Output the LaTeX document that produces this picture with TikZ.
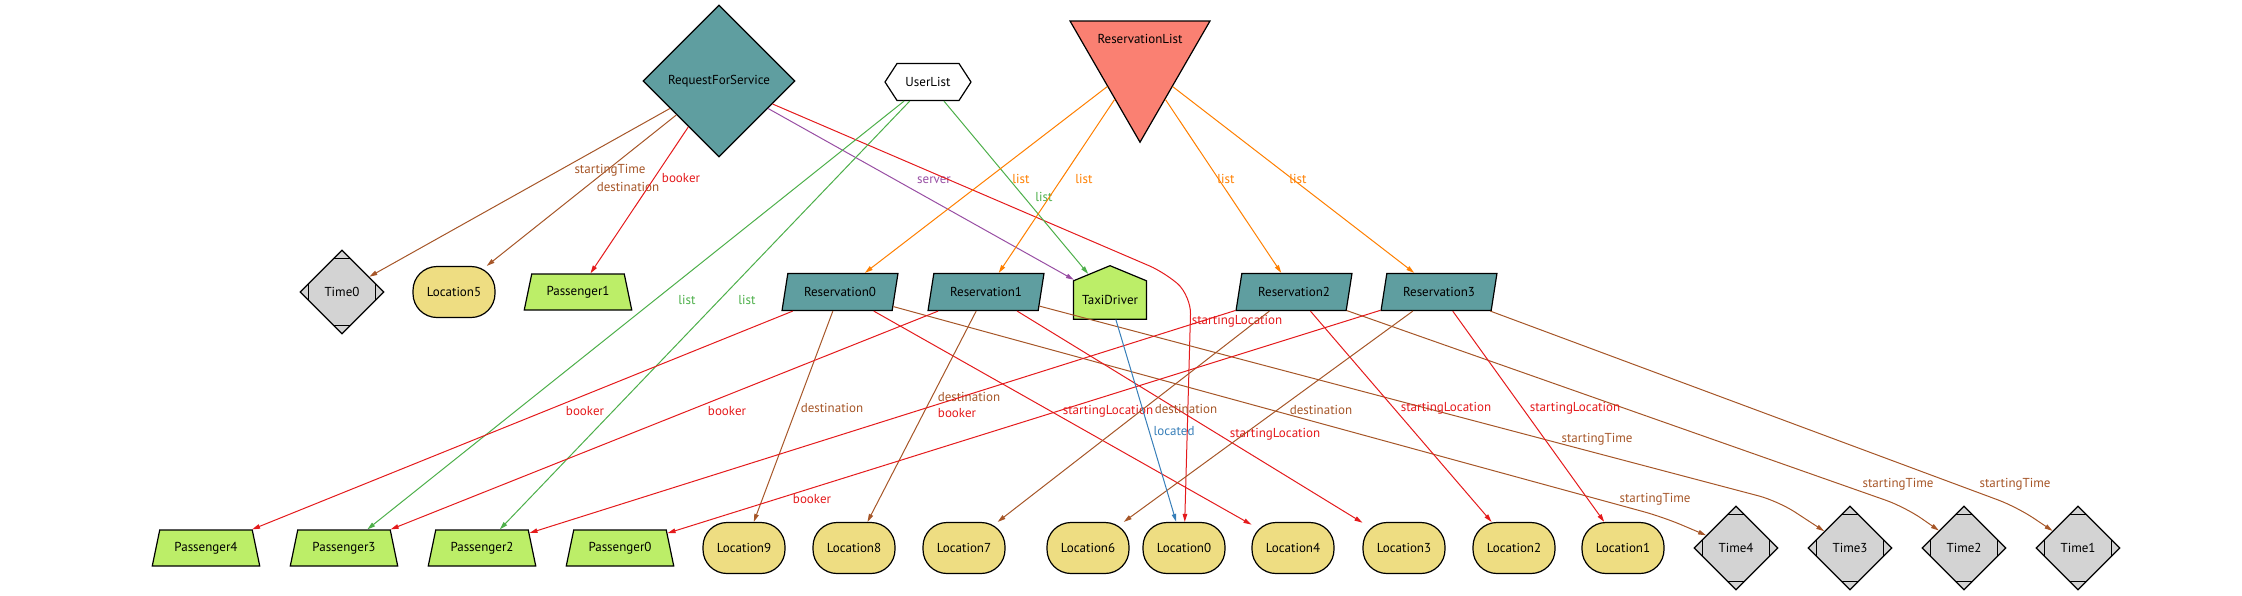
\documentclass[tikz,border=0pt]{standalone}
\usepackage{fontspec}
\setmainfont{PT Sans}
\usetikzlibrary{shapes.geometric,shapes.symbols,arrows.meta}

\definecolor{cadet}{HTML}{5F9EA0}
\definecolor{salmonred}{HTML}{FA8072}
\definecolor{goldlight}{HTML}{EEDD82}
\definecolor{olivegreen}{HTML}{BCEE68}
\definecolor{timegray}{HTML}{D3D3D3}
\definecolor{relred}{HTML}{E41A1C}
\definecolor{relbrown}{HTML}{A65628}
\definecolor{relorange}{HTML}{FF7F00}
\definecolor{relgreen}{HTML}{4DAF4A}
\definecolor{relpurple}{HTML}{984EA3}
\definecolor{relblue}{HTML}{377EB8}

\tikzset{
  atom/.style={draw=black, line width=1.2pt, inner sep=0pt, text=black,
    font=\fontsize{13}{15}\selectfont},
  reqbox/.style={atom, diamond, fill=cadet, minimum width=152pt, minimum height=152pt},
  listhex/.style={atom, signal, signal to=east and west, signal pointer angle=114,
    fill=white, minimum width=86pt, minimum height=37pt},
  resvlist/.style={atom, regular polygon, regular polygon sides=3, shape border rotate=180,
    fill=salmonred, minimum size=161.6pt},
  resvbox/.style={atom, trapezium, trapezium left angle=67, trapezium right angle=113,
    trapezium stretches, fill=cadet, minimum width=116pt, minimum height=37pt},
  paxbox/.style={atom, trapezium, trapezium left angle=67, trapezium right angle=67,
    trapezium stretches, fill=olivegreen, minimum width=108pt, minimum height=36pt},
  driverbox/.style={atom, signal, signal to=north, signal pointer angle=135,
    fill=olivegreen, minimum width=73pt, minimum height=50pt},
  locbox/.style={atom, rectangle, rounded corners=24pt, fill=goldlight,
    minimum width=82pt, minimum height=51pt},
  timebox/.style={atom, diamond, fill=timegray, minimum width=84pt, minimum height=84pt,
    path picture={
      \draw[line width=1pt]
        ([yshift=-8.5pt]path picture bounding box.north west) -- ([yshift=-8.5pt]path picture bounding box.north east)
        ([yshift=8.5pt]path picture bounding box.south west) -- ([yshift=8.5pt]path picture bounding box.south east)
        ([xshift=8.5pt]path picture bounding box.north west) -- ([xshift=8.5pt]path picture bounding box.south west)
        ([xshift=-8.5pt]path picture bounding box.north east) -- ([xshift=-8.5pt]path picture bounding box.south east);
    }},
  rel/.style={line width=1pt, -{Triangle[length=8pt,width=4.5pt]}},
  lbl/.style={font=\fontsize{13}{15}\selectfont, inner sep=1pt},
}

\begin{document}
\begin{tikzpicture}[x=1pt,y=-1pt]
  \useasboundingbox (0,0) rectangle (2242,595);
  % sommets du haut
  \node[reqbox] (RequestForService) at (719,81) {RequestForService};
  \node[listhex] (UserList) at (928,82) {UserList};
  \node[resvlist, label={[atom, draw=none, fill=none, anchor=center, yshift=-19pt]north:ReservationList}]
    (ReservationList) at (1140,61.4) {};
  % rangee du milieu
  \node[timebox] (Time0) at (342,292) {Time0};
  \node[locbox] (Location5) at (454,292) {Location5};
  \node[paxbox] (Passenger1) at (578,292) {Passenger1};
  \node[resvbox] (Reservation0) at (840,292) {Reservation0};
  \node[resvbox] (Reservation1) at (986,292) {Reservation1};
  \node[driverbox] (TaxiDriver) at (1110,300) {TaxiDriver};
  \node[resvbox] (Reservation2) at (1294,292) {Reservation2};
  \node[resvbox] (Reservation3) at (1439,292) {Reservation3};
  % rangee du bas
  \node[paxbox] (Passenger4) at (206,548) {Passenger4};
  \node[paxbox] (Passenger3) at (344,548) {Passenger3};
  \node[paxbox] (Passenger2) at (482,548) {Passenger2};
  \node[paxbox] (Passenger0) at (620,548) {Passenger0};
  \node[locbox] (Location9) at (744,548) {Location9};
  \node[locbox] (Location8) at (854,548) {Location8};
  \node[locbox] (Location7) at (964,548) {Location7};
  \node[locbox] (Location6) at (1088,548) {Location6};
  \node[locbox] (Location0) at (1184,548) {Location0};
  \node[locbox] (Location4) at (1293,548) {Location4};
  \node[locbox] (Location3) at (1404,548) {Location3};
  \node[locbox] (Location2) at (1514,548) {Location2};
  \node[locbox] (Location1) at (1623,548) {Location1};
  \node[timebox] (Time4) at (1736,548) {Time4};
  \node[timebox] (Time3) at (1850,548) {Time3};
  \node[timebox] (Time2) at (1964,548) {Time2};
  \node[timebox] (Time1) at (2078,548) {Time1};
  % demande de service
  \draw[rel, relbrown] (RequestForService) -- (Time0) node[lbl] at (610,170) {startingTime};
  \draw[rel, relbrown] (RequestForService) -- (Location5) node[lbl] at (628,187) {destination};
  \draw[rel, relred] (RequestForService) -- (Passenger1) node[lbl] at (681,178) {booker};
  \draw[rel, relpurple] (RequestForService) -- (TaxiDriver) node[lbl] at (934,180) {server};
  \draw[rel, relred, rounded corners=18pt] (RequestForService) -- (1166,273) -- (1191,296) -- (Location0)
    node[lbl] at (1237,321) {startingLocation};
  % listes
  \draw[rel, relgreen] (UserList) -- (Passenger3) node[lbl] at (687,300) {list};
  \draw[rel, relgreen] (UserList) -- (Passenger2) node[lbl] at (747,300) {list};
  \draw[rel, relgreen] (UserList) -- (TaxiDriver) node[lbl] at (1044,197) {list};
  \draw[rel, relorange] (ReservationList) -- (Reservation0) node[lbl] at (1021,179) {list};
  \draw[rel, relorange] (ReservationList) -- (Reservation1) node[lbl] at (1084,179) {list};
  \draw[rel, relorange] (ReservationList) -- (Reservation2) node[lbl] at (1226,179) {list};
  \draw[rel, relorange] (ReservationList) -- (Reservation3) node[lbl] at (1298,179) {list};
  % reservations
  \draw[rel, relred] (Reservation0) -- (Passenger4) node[lbl] at (585,411) {booker};
  \draw[rel, relbrown] (Reservation0) -- (Location9) node[lbl] at (832,408) {destination};
  \draw[rel, relred] (Reservation0) -- (Location4) node[lbl] at (1108,411) {startingLocation};
  \draw[rel, relbrown, rounded corners=20pt] (Reservation0) -- (1663,517) -- (Time4)
    node[lbl] at (1655,499) {startingTime};
  \draw[rel, relred] (Reservation1) -- (Passenger3) node[lbl] at (727,411) {booker};
  \draw[rel, relbrown] (Reservation1) -- (Location8) node[lbl] at (969,397) {destination};
  \draw[rel, relred] (Reservation1) -- (Location3) node[lbl] at (1275,434) {startingLocation};
  \draw[rel, relbrown, rounded corners=20pt] (Reservation1) -- (1778,501) -- (Time3)
    node[lbl] at (1597,439) {startingTime};
  \draw[rel, relred] (Reservation2) -- (Passenger2) node[lbl] at (957,413) {booker};
  \draw[rel, relbrown] (Reservation2) -- (Location7) node[lbl] at (1186,409) {destination};
  \draw[rel, relred] (Reservation2) -- (Location2) node[lbl] at (1446,408) {startingLocation};
  \draw[rel, relbrown, rounded corners=20pt] (Reservation2) -- (1905,507) -- (Time2)
    node[lbl] at (1898,484) {startingTime};
  \draw[rel, relred] (Reservation3) -- (Passenger0) node[lbl] at (812,499) {booker};
  \draw[rel, relbrown] (Reservation3) -- (Location6) node[lbl] at (1321,410) {destination};
  \draw[rel, relred] (Reservation3) -- (Location1) node[lbl] at (1575,408) {startingLocation};
  \draw[rel, relbrown, rounded corners=20pt] (Reservation3) -- (2017,507) -- (Time1)
    node[lbl] at (2015,484) {startingTime};
  % chauffeur
  \draw[rel, relblue] (TaxiDriver) -- (Location0) node[lbl] at (1174,431) {located};
\end{tikzpicture}
\end{document}
